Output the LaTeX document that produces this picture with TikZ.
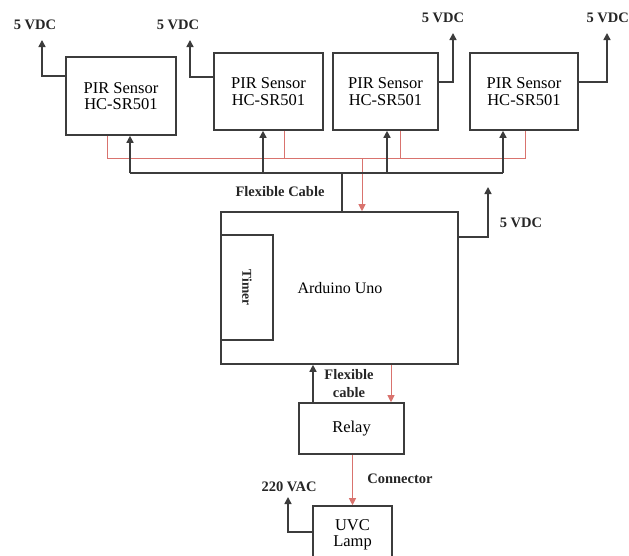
\documentclass[tikz,border=0pt]{standalone}
\usepackage{fontspec}
\setmainfont{Liberation Serif}
\usetikzlibrary{arrows.meta}
\definecolor{ln}{HTML}{3C3C3C}
\definecolor{rd}{HTML}{D9736E}
\tikzset{
  box/.style={draw=ln, line width=1.6pt, fill=white, align=center, inner sep=0pt,
    font=\fontsize{16.5}{16.5}\selectfont},
  lbl/.style={font=\bfseries\fontsize{14.5}{15}\selectfont, text=black!85, inner sep=0pt, align=center},
  bl/.style={draw=ln, line width=1.5pt},
  ba/.style={bl, -{Triangle[width=7pt,length=7pt]}},
  rl/.style={draw=rd, line width=0.9pt},
  ra/.style={rl, -{Triangle[width=7pt,length=7pt]}},
}
\begin{document}
\begin{tikzpicture}[x=1pt,y=-1pt]
\useasboundingbox (0,0) rectangle (629,555);
\fill[white] (0,0) rectangle (629,555);
\begin{scope}
\clip (0,0) rectangle (629,555);
% PIR sensors
\node[box, minimum width=110pt, minimum height=78pt] (p1) at (121,96) {PIR Sensor\\HC-SR501};
\node[box, minimum width=109pt, minimum height=77pt] (p2) at (268.5,91.5) {PIR Sensor\\HC-SR501};
\node[box, minimum width=105pt, minimum height=77pt] (p3) at (385.5,91.5) {PIR Sensor\\HC-SR501};
\node[box, minimum width=108pt, minimum height=77pt] (p4) at (524,91.5) {PIR Sensor\\HC-SR501};
% Arduino
\node[box, minimum width=237pt, minimum height=152pt] (ard) at (339.5,288) {};
\node[font=\fontsize{16}{16}\selectfont, inner sep=0pt] (ardt) at (340,288) {Arduino Uno};
\node[box, minimum width=52pt, minimum height=105pt, anchor=west] (tim) at (ard.west |- 0,287.5) {};
\node[lbl, rotate=-90, font=\bfseries\fontsize{13.5}{14}\selectfont] (timt) at (tim.center) {Timer};
% Relay and lamp
\node[box, minimum width=105pt, minimum height=51pt] (rel) at (351.5,428.5) {Relay};
\node[box, minimum width=79pt, minimum height=54pt, text depth=0pt] (uvc) at (352.5,533) {UVC\\Lamp};

% 5 VDC labels and supply arrows
\node[lbl] (v1) at (35,25) {5 VDC};
\node[lbl] (v2) at (178,25) {5 VDC};
\node[lbl] (v3) at (443,18) {5 VDC};
\node[lbl, anchor=east] (v4) at (629,18) {5 VDC};
\node[lbl] (v5) at (521,223) {5 VDC};
\node[lbl] (v6) at (289,487) {220 VAC};
\coordinate (t1) at (42,40);
\coordinate (t2) at (190,40);
\coordinate (t3) at (453,33);
\coordinate (t4) at (607,33);
\coordinate (t5) at (488,187);
\coordinate (t6) at (288,497);
\draw[ba] (p1.west |- 0,76) -| (t1);
\draw[ba] (p2.west |- 0,77) -| (t2);
\draw[ba] (p3.east |- 0,82) -| (t3);
\draw[ba] (p4.east |- 0,82) -| (t4);
\draw[ba] (ard.east |- 0,237) -| (t5);
\draw[ba] (uvc.west |- 0,532) -| (t6);

% red bus
\coordinate (rb1) at (107,158);
\coordinate (rb4) at (525,158);
\draw[rl] (p1.south -| rb1) -- (rb1) -- (rb4) -- (p4.south -| rb4);
\draw[rl] (p2.south -| 284,0) -- (284,158);
\draw[rl] (p3.south -| 400,0) -- (400,158);
\draw[ra] (362,158) -- (ard.north -| 362,0);
% black bus
\coordinate (bb1) at (130,173);
\coordinate (bb4) at (503,173);
\draw[bl] (bb1) -- (bb4);
\draw[ba] (bb1) -- (p1.south -| bb1);
\draw[ba] (263,173) -- (p2.south -| 263,0);
\draw[ba] (387,173) -- (p3.south -| 387,0);
\draw[ba] (bb4) -- (p4.south -| bb4);
\draw[bl] (342,173) -- (ard.north -| 342,0);
\node[lbl] (fc) at (280,192) {Flexible Cable};

% Arduino - relay
\draw[ba] (rel.north -| 313,0) -- (ard.south -| 313,0);
\draw[ra] (ard.south -| 391,0) -- (rel.north -| 391,0);
\node[lbl, font=\bfseries\fontsize{14.5}{18}\selectfont] (fc2) at (349,384) {Flexible\\cable};
% relay - lamp
\draw[ra] (rel.south -| uvc.north) -- (uvc.north);
\node[lbl] (con) at (400,479) {Connector};
\end{scope}
\end{tikzpicture}
\end{document}
